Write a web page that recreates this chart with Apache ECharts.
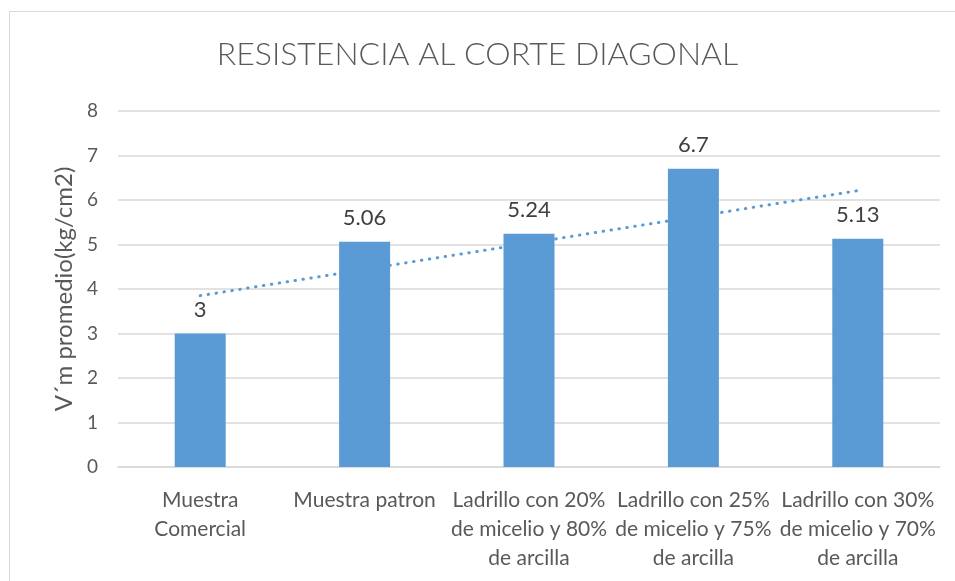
<!DOCTYPE html>
<html><head><meta charset="utf-8">
<script src="https://cdn.jsdelivr.net/npm/echarts@6/dist/echarts.min.js"></script>
<style>html,body{margin:0;padding:0;background:#fff}#c{width:955px;height:581px}
#frame{position:absolute;left:9px;top:11px;width:960px;height:600px;border:1.5px solid #d9d9d9;pointer-events:none}</style>
</head><body><div id="c"></div><div id="frame"></div>
<script>
const titleText = "RESISTENCIA AL CORTE DIAGONAL";
const yAxisName = "V´m promedio(kg/cm2)";
const categories = [
  "Muestra\nComercial",
  "Muestra patron",
  "Ladrillo con 20%\nde micelio y 80%\nde arcilla",
  "Ladrillo con 25%\nde micelio y 75%\nde arcilla",
  "Ladrillo con 30%\nde micelio y 70%\nde arcilla"
];
const values = [3, 5.06, 5.24, 6.7, 5.13];
const trendValues = [3.85, 4.44, 5.03, 5.62, 6.21];
const yTicks = { min: 0, max: 8, interval: 1 };

const font = "Lato, 'Open Sans', sans-serif";
const chart = echarts.init(document.getElementById('c'), null, {renderer: 'canvas'});
chart.setOption({
  animation: false,
  title: {
    text: titleText, left: 'center', top: 34,
    textStyle: {fontFamily: font, fontSize: 32, fontWeight: 300, color: '#595959'}
  },
  grid: {left: 118, right: 15, top: 111, bottom: 114, containLabel: false},
  xAxis: {
    type: 'category', data: categories,
    axisLine: {lineStyle: {color: '#d9d9d9', width: 1.5}},
    axisTick: {show: false},
    axisLabel: {interval: 0, margin: 19, fontFamily: font, fontSize: 21, lineHeight: 29, color: '#595959'}
  },
  yAxis: {
    type: 'value', min: yTicks.min, max: yTicks.max, interval: yTicks.interval,
    name: yAxisName, nameLocation: 'middle', nameGap: 41, nameRotate: 90,
    nameTextStyle: {fontFamily: font, fontSize: 24, color: '#595959'},
    axisLine: {show: false}, axisTick: {show: false},
    axisLabel: {fontFamily: font, fontSize: 19, color: '#595959', margin: 20},
    splitLine: {lineStyle: {color: '#d9d9d9', width: 1.5}}
  },
  series: [
    {
      type: 'line', data: trendValues, z: 1, symbol: 'none', silent: true,
      lineStyle: {color: '#5B9BD5', width: 3, type: [0.5, 7.5], cap: 'round'}
    },
    {
      type: 'bar', data: values, barWidth: 51, z: 2,
      itemStyle: {color: '#5B9BD5'},
      label: {show: true, position: 'top', distance: 13, fontFamily: font, fontSize: 22, color: '#404040'}
    }
  ]
});
</script>
</body></html>
